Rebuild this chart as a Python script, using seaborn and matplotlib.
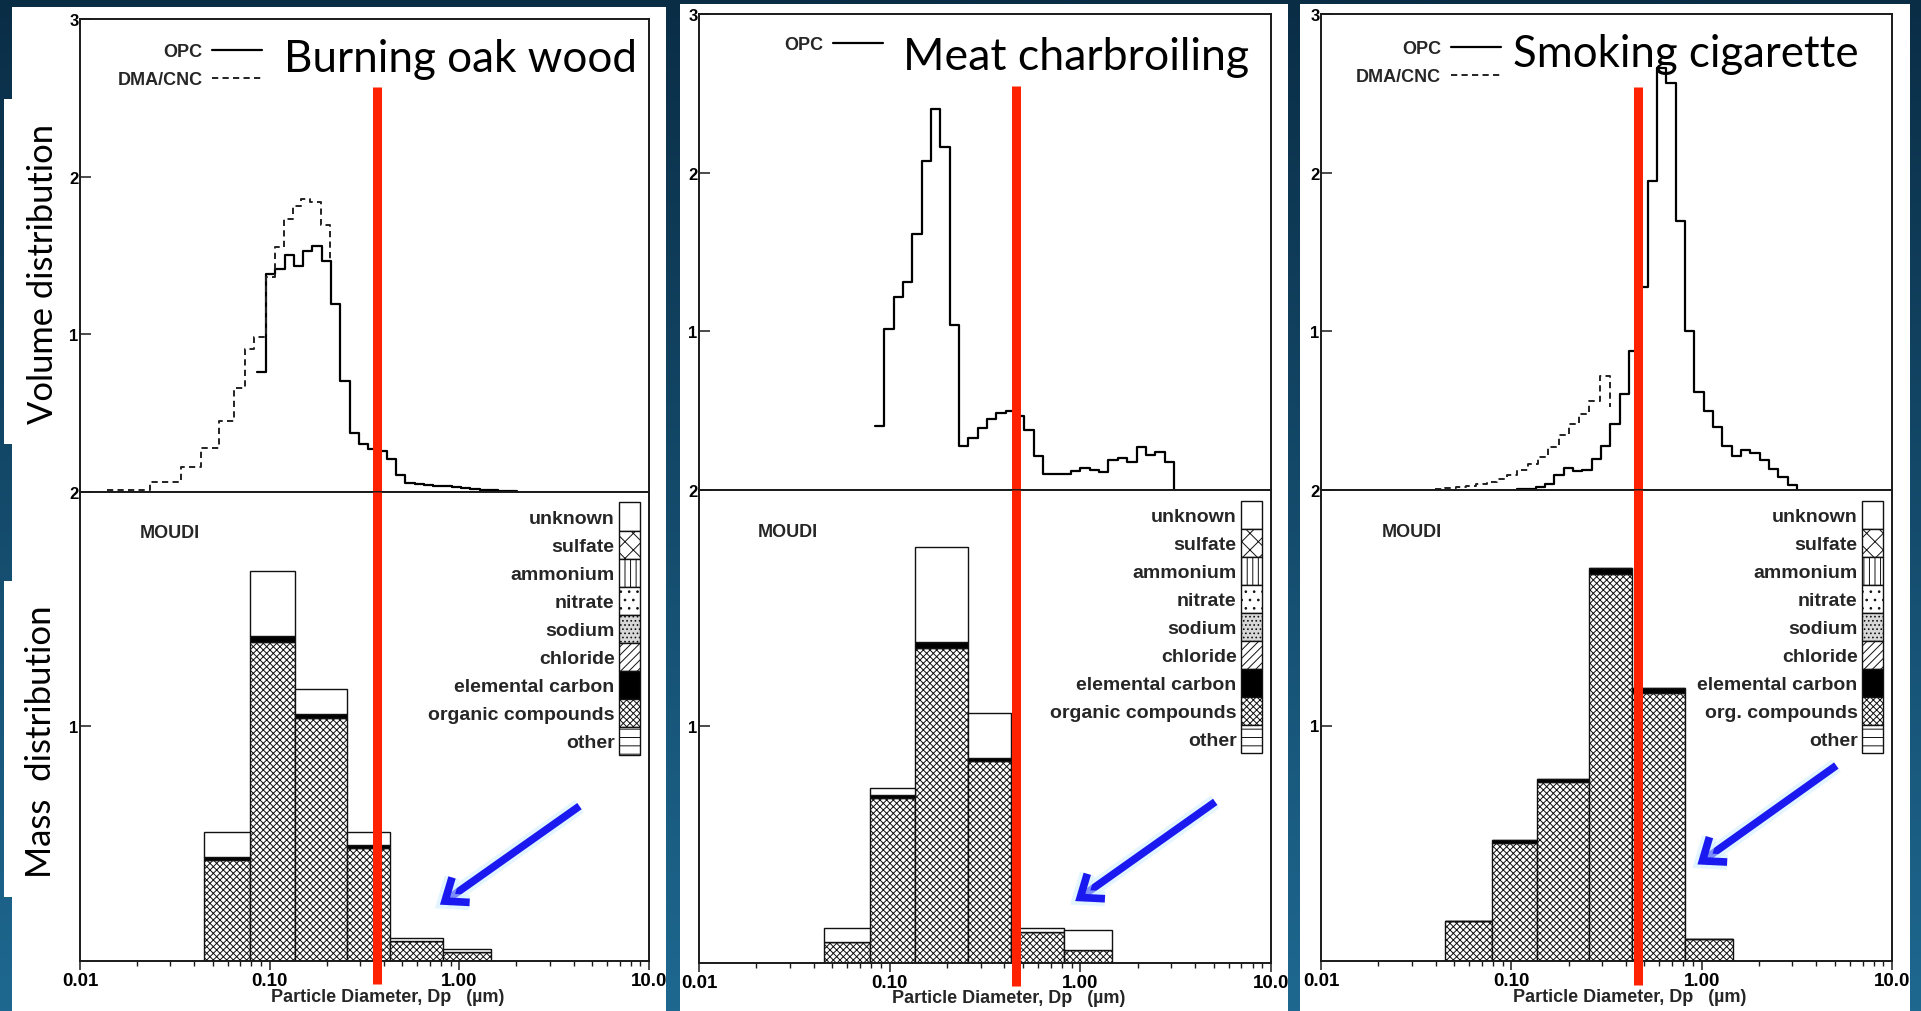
import numpy as np
import matplotlib
matplotlib.use("Agg")
import matplotlib.pyplot as plt
import matplotlib.patheffects as pe
from matplotlib.patches import Rectangle, Patch
from matplotlib.lines import Line2D
from matplotlib.ticker import LogLocator, NullFormatter
import seaborn as sns

# ---------------------------------------------------------------- data
x_ticks = [0.01, 0.1, 1.0, 10.0]
x_tick_labels = ["0.01", "0.10", "1.00", "10.0"]
vol_ticks = [1, 2, 3]
vol_tick_labels = ["1", "2", "3"]
mass_ticks = [1, 2]
mass_tick_labels = ["1", "2"]

source_titles = ["Burning oak wood", "Meat charbroiling", "Smoking cigarette"]

# OPC size channels (log-spaced, channel width in decades)
opc_step = 0.049

oak_opc_start = 0.0854
oak_opc = [0.757, 1.381, 1.413, 1.502, 1.430, 1.530, 1.557, 1.466, 1.191, 0.700,
           0.372, 0.303, 0.271, 0.258, 0.207, 0.105, 0.058, 0.047, 0.043, 0.038,
           0.034, 0.030, 0.025, 0.018, 0.012, 0.008, 0.005, 0.003]

meat_opc_start = 0.0837
meat_opc = [0.405, 1.015, 1.214, 1.309, 1.613, 2.076, 2.401, 2.160, 1.042, 0.279,
            0.328, 0.391, 0.447, 0.485, 0.496, 0.468, 0.380, 0.212, 0.101, 0.101,
            0.101, 0.118, 0.137, 0.128, 0.116, 0.189, 0.200, 0.174, 0.273, 0.221,
            0.237, 0.174]

cig_opc_start = 0.1072
cig_opc = [0.004, 0.008, 0.018, 0.038, 0.095, 0.137, 0.122, 0.128, 0.195, 0.279,
           0.416, 0.605, 0.878, 1.277, 1.950, 2.660, 2.565, 1.693, 1.004, 0.620,
           0.496, 0.400, 0.275, 0.216, 0.254, 0.233, 0.189, 0.132, 0.080, 0.030]

# DMA/CNC size channels
oak_dma_edges = [0.0138, 0.0234, 0.0339, 0.0437, 0.0543, 0.0646, 0.0741, 0.0822,
                 0.0955, 0.107, 0.119, 0.132, 0.146, 0.163, 0.186, 0.209]
oak_dma = [0.01, 0.06, 0.155, 0.28, 0.45, 0.66, 0.905, 0.98, 1.36, 1.55, 1.73,
           1.815, 1.857, 1.836, 1.69]
oak_dma_end = 1.47

cig_dma_start = 0.0398
cig_dma_step = 0.054
cig_dma = [0.008, 0.013, 0.02, 0.028, 0.038, 0.05, 0.07, 0.095, 0.125, 0.165,
           0.21, 0.27, 0.345, 0.415, 0.48, 0.56, 0.72]
cig_dma_end = 0.52

# MOUDI impactor stages (um) and chemical mass per stage
moudi_edges = [0.045, 0.079, 0.136, 0.256, 0.433, 0.818, 1.46]

oak_organic = [0.431, 1.358, 1.036, 0.482, 0.085, 0.040]
oak_ec = [0.012, 0.026, 0.015, 0.012, 0.0, 0.0]
oak_unknown = [0.107, 0.276, 0.110, 0.056, 0.014, 0.011]

meat_organic = [0.087, 0.696, 1.333, 0.851, 0.128, 0.054]
meat_ec = [0.0, 0.012, 0.022, 0.016, 0.0, 0.0]
meat_unknown = [0.061, 0.031, 0.403, 0.188, 0.020, 0.084]

cig_organic = [0.171, 0.500, 0.759, 1.643, 1.139, 0.094]
cig_ec = [0.0, 0.013, 0.014, 0.026, 0.021, 0.0]
cig_unknown = [0.0, 0.0, 0.0, 0.0, 0.0, 0.0]

moudi_labels = ["unknown", "sulfate", "ammonium", "nitrate", "sodium", "chloride",
                "elemental carbon", "organic compounds", "other"]
moudi_labels_short = ["unknown", "sulfate", "ammonium", "nitrate", "sodium", "chloride",
                      "elemental carbon", "org. compounds", "other"]

cut_diameters = [0.37, 0.46, 0.463]
arrow_heads = [(0.79, 0.24), (0.94, 0.26), (0.95, 0.41)]
arrow_tails = [(4.3, 0.66), (5.1, 0.68), (5.1, 0.83)]

# ---------------------------------------------------------------- style
sns.set_theme(style="white")
plt.rcParams["font.family"] = ["Liberation Sans", "DejaVu Sans"]
plt.rcParams["font.weight"] = "bold"
plt.rcParams["hatch.linewidth"] = 0.7

fill_styles = {
    "unknown": dict(facecolor="white", hatch=""),
    "sulfate": dict(facecolor="white", hatch="xx"),
    "ammonium": dict(facecolor="white", hatch="|||"),
    "nitrate": dict(facecolor="white", hatch=".."),
    "sodium": dict(facecolor="#d8d8d8", hatch="...."),
    "chloride": dict(facecolor="white", hatch="////"),
    "elemental carbon": dict(facecolor="black", hatch=""),
    "organic compounds": dict(facecolor="white", hatch="xxxxx"),
    "other": dict(facecolor="white", hatch="--"),
}
style_order = ["unknown", "sulfate", "ammonium", "nitrate", "sodium", "chloride",
               "elemental carbon", "organic compounds", "other"]

W, H, DPI = 1921, 1012, 100
fig = plt.figure(figsize=(W / DPI, H / DPI), dpi=DPI)


def fx(x):
    return x / W


def fy(y):
    return 1 - y / H


# slide background
bg = fig.add_axes([0, 0, 1, 1], zorder=-20)
top_c = np.array([10, 45, 70]) / 255
bot_c = np.array([30, 104, 144]) / 255
t = np.linspace(0, 1, 256)[:, None]
grad = top_c[None, :] * (1 - t) + bot_c[None, :] * t
bg.imshow(grad[:, None, :], aspect="auto", extent=[0, 1, 0, 1], interpolation="bilinear")
bg.set_axis_off()

# white sheets (three figure panels + two side label boxes)
sheets = [(12, 8, 666, 1012), (680, 5, 1288, 1012), (1300, 5, 1910, 1012),
          (4, 100, 60, 445), (4, 582, 60, 898)]
for (x0, y0, x1, y1) in sheets:
    fig.add_artist(Rectangle((fx(x0), fy(y1)), (x1 - x0) / W, (y1 - y0) / H,
                             transform=fig.transFigure, facecolor="white",
                             edgecolor="none", zorder=-10))

# axes boxes in pixels: left, right, top, middle, bottom
boxes = [(80, 649, 20, 492.7, 962),
         (699, 1271, 15, 491, 963.5),
         (1321, 1892, 15, 491, 962)]

opc_series = [(oak_opc_start, oak_opc), (meat_opc_start, meat_opc), (cig_opc_start, cig_opc)]
dma_series = [(oak_dma_edges, oak_dma, oak_dma_end),
              None,
              (list(cig_dma_start * 10 ** (cig_dma_step * np.arange(len(cig_dma) + 1))),
               cig_dma, cig_dma_end)]
mass_series = [(oak_organic, oak_ec, oak_unknown),
               (meat_organic, meat_ec, meat_unknown),
               (cig_organic, cig_ec, cig_unknown)]
legend_labels = [moudi_labels, moudi_labels, moudi_labels_short]
top_legend_anchor = [(0.32, 0.9485), (0.321, 0.954), (0.315, 0.9445)]
moudi_pos = [(0.105, 0.912), (0.103, 0.912), (0.107, 0.911)]
red_top = [0.856, 0.848, 0.846]

SPINE = "#1a1a1a"


def style_axis(ax, yticks, ylabels, show_xlabels):
    ax.set_xscale("log")
    ax.set_xlim(0.01, 10)
    ax.set_xticks(x_ticks)
    ax.xaxis.set_minor_locator(LogLocator(base=10, subs=np.arange(2, 10)))
    ax.xaxis.set_minor_formatter(NullFormatter())
    ax.set_yticks(yticks)
    ax.set_yticklabels(ylabels, fontsize=12, fontweight="bold")
    if show_xlabels:
        ax.set_xticklabels(x_tick_labels, fontsize=13.5, fontweight="bold")
    else:
        ax.set_xticklabels([])
    ax.tick_params(axis="x", which="major", direction="out", length=6.5, width=1.1,
                   bottom=True, top=False, pad=1.5, colors=SPINE, labelcolor="black")
    ax.tick_params(axis="x", which="minor", direction="out", length=3.5, width=1.0,
                   bottom=True, top=False, colors=SPINE)
    ax.tick_params(axis="y", which="both", direction="in", length=8, width=1.1,
                   left=True, right=False, pad=1, colors=SPINE, labelcolor="black")
    for s in ax.spines.values():
        s.set_color(SPINE)
        s.set_linewidth(1.4)
    ax.set_facecolor("white")
    ax.grid(False)


def step_line(ax, edges, vals, end, **kw):
    ys = list(vals) + [end]
    sns.lineplot(x=list(edges), y=ys, ax=ax, drawstyle="steps-post",
                 estimator=None, sort=False, **kw)


for i, (l, r, tp, mid, bt) in enumerate(boxes):
    ax_v = fig.add_axes([fx(l), fy(mid), (r - l) / W, (mid - tp) / H])
    ax_m = fig.add_axes([fx(l), fy(bt), (r - l) / W, (bt - mid) / H])
    for ax in (ax_v, ax_m):
        ax.set_xscale("log")

    # ---- volume distribution (upper)
    start, vals = opc_series[i]
    edges = start * 10 ** (opc_step * np.arange(len(vals) + 1))
    step_line(ax_v, edges, vals, 0.0, color="black", linewidth=1.6)
    handles = [Line2D([], [], color="black", lw=1.6)]
    labels = ["OPC"]
    if dma_series[i] is not None:
        d_edges, d_vals, d_end = dma_series[i]
        step_line(ax_v, d_edges, d_vals, d_end, color="#222222", linewidth=1.4,
                  linestyle=(0, (3.2, 2.2)))
        handles.append(Line2D([], [], color="#222222", lw=1.4, linestyle=(0, (3.2, 2.2))))
        labels.append("DMA/CNC")
    ax_v.set_ylim(0, 3)
    style_axis(ax_v, vol_ticks, vol_tick_labels, False)
    ax_v.set_xlabel("")
    ax_v.set_ylabel("")
    ax_v.legend(handles, labels, loc="upper right", bbox_to_anchor=top_legend_anchor[i],
                markerfirst=False, frameon=False, borderpad=0, borderaxespad=0,
                handlelength=2.75, handletextpad=0.55, labelspacing=0.61,
                prop=dict(size=13, weight="bold"))

    # ---- mass distribution (lower), stacked by chemical class
    organic, ec, unknown = mass_series[i]
    left = np.array(moudi_edges[:-1])
    width = np.diff(moudi_edges)
    bottom = np.zeros(len(left))
    for name, layer in (("organic compounds", organic), ("elemental carbon", ec),
                        ("unknown", unknown)):
        ax_m.bar(left, layer, width=width, bottom=bottom, align="edge",
                 edgecolor="#111111", linewidth=1.0, **fill_styles[name])
        bottom = bottom + np.array(layer)
    ax_m.set_ylim(0, 2)
    style_axis(ax_m, mass_ticks, mass_tick_labels, True)
    ax_m.set_ylabel("")
    ax_m.set_xlabel("Particle Diameter, Dp   (\u00b5m)", fontsize=13, fontweight="bold")
    ax_m.xaxis.set_label_coords(0.541, -0.057)

    patches = [Patch(edgecolor="#111111", linewidth=1.0, **fill_styles[k]) for k in style_order]
    ax_m.legend(patches, legend_labels[i], loc="upper right", bbox_to_anchor=(0.984, 0.977),
                markerfirst=False, frameon=False, borderpad=0, borderaxespad=0,
                handlelength=1.08, handleheight=1.84, handletextpad=0.22, labelspacing=0,
                prop=dict(size=14, weight="bold"))
    ax_m.text(moudi_pos[i][0], moudi_pos[i][1], "MOUDI", transform=ax_m.transAxes,
              fontsize=13, fontweight="bold", ha="left", va="center")

    # ---- size cut marker spanning both plots
    dc = cut_diameters[i]
    ax_v.axvline(dc, ymin=0, ymax=red_top[i], color="#ff2200", lw=6.5,
                 solid_capstyle="butt", zorder=6)
    ax_m.axvline(dc, ymin=-0.05, ymax=1, color="#ff2200", lw=6.5,
                 solid_capstyle="butt", zorder=6, clip_on=False)

    # ---- pointer to the coarse stages
    ax_m.annotate("", xy=arrow_heads[i], xytext=arrow_tails[i],
                  arrowprops=dict(arrowstyle="->,head_length=0.7,head_width=0.55",
                                  color="#1a1af0", lw=5.5, mutation_scale=20,
                                  shrinkA=0, shrinkB=0, joinstyle="miter",
                                  capstyle="butt",
                                  path_effects=[pe.Stroke(linewidth=11, foreground="#cdeeff",
                                                          alpha=0.55), pe.Normal()]),
                  annotation_clip=False, zorder=7)

# ---- panel titles and side labels
renderer = fig.canvas.get_renderer()


def fit_length(txt, target_px):
    bb = txt.get_window_extent(renderer=renderer)
    length = bb.height if txt.get_rotation() == 90 else bb.width
    txt.set_fontsize(txt.get_fontsize() * target_px / length)


title_pos = [(284, 72, 352), (903, 70, 345), (1513, 67, 345)]
for title, (x0, yb, wpx) in zip(source_titles, title_pos):
    tt = fig.text(fx(x0), fy(yb), title, family=["Lato", "DejaVu Sans"], weight="normal",
                  fontsize=30, ha="left", va="baseline", color="black", zorder=8)
    fit_length(tt, wpx)

side_labels = [("Volume distribution", 53, 274, 300), ("Mass  distribution", 51, 742, 273)]
for text, xb, yc, lpx in side_labels:
    st = fig.text(fx(xb), fy(yc), text, rotation=90, rotation_mode="anchor",
                  family=["Lato", "DejaVu Sans"], weight="normal", fontsize=24,
                  ha="center", va="baseline", color="black", zorder=8)
    fit_length(st, lpx)

fig.savefig("out.png", dpi=DPI)
